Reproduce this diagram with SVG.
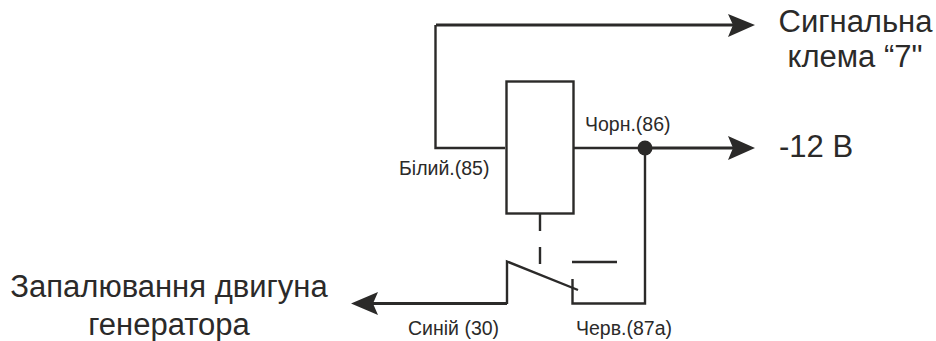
<svg xmlns="http://www.w3.org/2000/svg" width="936" height="341" viewBox="0 0 936 341">
<style>
text{font-family:"Liberation Sans",Arial,sans-serif;fill:#2b2a29}
.big{font-size:31px}
.sm{font-size:19.500px}
.w{fill:none;stroke:#2b2a29;stroke-width:2.4}
.t{fill:none;stroke:#2b2a29;stroke-width:3.2}
.h{fill:#2b2a29;stroke:none}
</style>
<rect width="936" height="341" fill="#fff"/>
<g id="connectors">
<path class="t" d="M436 25H740"/>
<path class="w" d="M505 148H435.500V25"/>
<path class="w" d="M574 148H645"/>
<path class="t" d="M645 148H740"/>
<path class="w" d="M645 148V303.500H572.500V279"/>
<path class="w" d="M540 214V231M540 247V264"/>
<path class="w" d="M572 262H617"/>
<path class="w" d="M578 290L507 261.500V304"/>
<path class="t" d="M507 303.500H365"/>
<path class="h" d="M755 25L728 14L733 25L728 37Z"/>
<path class="h" d="M755 148L728 136L733 148L728 160Z"/>
<path class="h" d="M351 303.500L378 292L373 303.500L378 315Z"/>
</g>
<g id="junction"><circle class="h" cx="645" cy="148" r="7.500"/></g>
<g id="relay"><rect class="w" x="506.500" y="81.500" width="67" height="132" fill="none"/></g>
<g id="label-signal">
<text class="big" x="855.500" y="32" text-anchor="middle">Сигнальна</text>
<text class="big" x="855" y="67" text-anchor="middle">клема “7"</text>
</g>
<g id="label-minus12"><text class="big" x="779" y="157">-12 В</text></g>
<g id="label-ignition">
<text class="big" x="169" y="297" text-anchor="middle">Запалювання двигуна</text>
<text class="big" x="169" y="335" text-anchor="middle">генератора</text>
</g>
<g id="label-85"><text class="sm" x="399" y="175">Білий.(85)</text></g>
<g id="label-86"><text class="sm" x="585" y="131">Чорн.(86)</text></g>
<g id="label-30"><text class="sm" x="408" y="335">Синій (30)</text></g>
<g id="label-87a"><text class="sm" x="576" y="335">Черв.(87а)</text></g>
</svg>
